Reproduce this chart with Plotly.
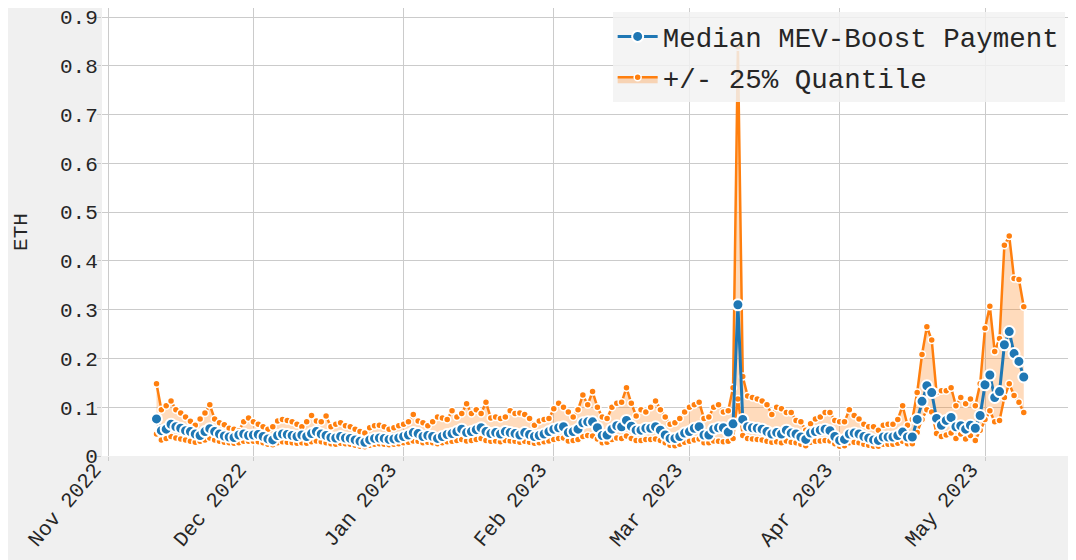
import pandas as pd
import plotly.graph_objects as go

start_date = "2022-11-11"
n_days = 180

median = [
    0.076, 0.052, 0.055, 0.065, 0.060, 0.057, 0.052, 0.050, 0.045, 0.042,
    0.050, 0.056, 0.050, 0.045, 0.041, 0.039, 0.038, 0.043, 0.045, 0.042,
    0.043, 0.044, 0.040, 0.035, 0.033, 0.042, 0.045, 0.044, 0.042, 0.040,
    0.043, 0.040, 0.046, 0.050, 0.045, 0.042, 0.038, 0.037, 0.040, 0.037,
    0.036, 0.033, 0.030, 0.028, 0.033, 0.036, 0.037, 0.036, 0.034, 0.035,
    0.037, 0.040, 0.043, 0.048, 0.046, 0.040, 0.042, 0.040, 0.036, 0.040,
    0.044, 0.046, 0.050, 0.055, 0.048, 0.050, 0.054, 0.058, 0.050, 0.046,
    0.048, 0.045, 0.050, 0.048, 0.046, 0.043, 0.048, 0.044, 0.040, 0.042,
    0.045, 0.050, 0.055, 0.058, 0.060, 0.048, 0.050, 0.055, 0.068, 0.070,
    0.070, 0.058, 0.042, 0.043, 0.055, 0.062, 0.060, 0.073, 0.061, 0.053,
    0.053, 0.057, 0.057, 0.060, 0.053, 0.043, 0.036, 0.036, 0.040, 0.047,
    0.050, 0.057, 0.060, 0.043, 0.043, 0.055, 0.058, 0.058, 0.049, 0.066,
    0.310, 0.075, 0.060, 0.058, 0.057, 0.055, 0.050, 0.045, 0.048, 0.045,
    0.053, 0.047, 0.045, 0.039, 0.034, 0.047, 0.050, 0.053, 0.055, 0.052,
    0.040, 0.032, 0.034, 0.045, 0.047, 0.045, 0.040, 0.037, 0.033, 0.032,
    0.039, 0.039, 0.039, 0.042, 0.049, 0.039, 0.039, 0.075, 0.112, 0.144,
    0.130, 0.077, 0.063, 0.073, 0.079, 0.060, 0.062, 0.055, 0.063, 0.057,
    0.083, 0.146, 0.166, 0.120, 0.132, 0.228, 0.255, 0.210, 0.194, 0.162,
]

upper_q = [
    0.148, 0.095, 0.103, 0.113, 0.095, 0.088, 0.080, 0.071, 0.063, 0.076,
    0.088, 0.105, 0.076, 0.068, 0.064, 0.057, 0.055, 0.052, 0.070, 0.078,
    0.070, 0.065, 0.060, 0.055, 0.060, 0.072, 0.075, 0.073, 0.070, 0.065,
    0.060, 0.070, 0.083, 0.072, 0.070, 0.082, 0.060, 0.065, 0.068, 0.062,
    0.060, 0.055, 0.050, 0.047, 0.058, 0.062, 0.063, 0.060, 0.055, 0.058,
    0.062, 0.065, 0.070, 0.085, 0.072, 0.068, 0.062, 0.070, 0.080, 0.078,
    0.075, 0.093, 0.080, 0.087, 0.107, 0.087, 0.095, 0.087, 0.110, 0.078,
    0.080, 0.077, 0.080, 0.093, 0.087, 0.088, 0.085, 0.077, 0.063, 0.072,
    0.075, 0.077, 0.097, 0.108, 0.100, 0.090, 0.080, 0.095, 0.125, 0.105,
    0.132, 0.100, 0.080, 0.077, 0.100, 0.108, 0.110, 0.140, 0.108, 0.082,
    0.095, 0.090, 0.100, 0.113, 0.095, 0.080, 0.065, 0.068, 0.077, 0.090,
    0.100, 0.105, 0.110, 0.077, 0.080, 0.100, 0.105, 0.090, 0.093, 0.140,
    0.839, 0.163, 0.123, 0.120, 0.117, 0.113, 0.105, 0.085, 0.100, 0.097,
    0.089, 0.089, 0.073, 0.070, 0.053, 0.066, 0.076, 0.080, 0.089, 0.089,
    0.073, 0.070, 0.070, 0.095, 0.083, 0.076, 0.065, 0.060, 0.060, 0.053,
    0.063, 0.065, 0.065, 0.075, 0.103, 0.063, 0.075, 0.130, 0.208, 0.265,
    0.238, 0.130, 0.134, 0.134, 0.140, 0.103, 0.120, 0.107, 0.117, 0.103,
    0.148, 0.262, 0.307, 0.214, 0.241, 0.432, 0.451, 0.364, 0.362, 0.306,
]

lower_q = [
    0.045, 0.033, 0.036, 0.040, 0.037, 0.035, 0.033, 0.030, 0.028, 0.030,
    0.033, 0.037, 0.033, 0.030, 0.028, 0.027, 0.026, 0.027, 0.030, 0.030,
    0.030, 0.029, 0.027, 0.024, 0.023, 0.027, 0.029, 0.028, 0.027, 0.026,
    0.027, 0.026, 0.029, 0.031, 0.029, 0.027, 0.025, 0.024, 0.026, 0.025,
    0.024, 0.022, 0.020, 0.019, 0.022, 0.024, 0.025, 0.024, 0.023, 0.024,
    0.025, 0.027, 0.028, 0.031, 0.030, 0.027, 0.028, 0.027, 0.025, 0.027,
    0.029, 0.030, 0.032, 0.034, 0.031, 0.032, 0.034, 0.036, 0.032, 0.030,
    0.031, 0.029, 0.032, 0.031, 0.030, 0.028, 0.030, 0.028, 0.026, 0.027,
    0.029, 0.031, 0.034, 0.036, 0.037, 0.031, 0.032, 0.034, 0.040, 0.042,
    0.041, 0.035, 0.027, 0.028, 0.034, 0.037, 0.036, 0.041, 0.036, 0.032,
    0.032, 0.034, 0.034, 0.035, 0.032, 0.027, 0.022, 0.021, 0.024, 0.028,
    0.030, 0.033, 0.035, 0.027, 0.027, 0.031, 0.030, 0.029, 0.030, 0.036,
    0.117, 0.042, 0.036, 0.035, 0.034, 0.033, 0.030, 0.028, 0.029, 0.027,
    0.031, 0.028, 0.027, 0.024, 0.021, 0.028, 0.030, 0.031, 0.032, 0.031,
    0.025, 0.020, 0.021, 0.027, 0.028, 0.027, 0.024, 0.022, 0.020, 0.020,
    0.024, 0.024, 0.024, 0.026, 0.030, 0.025, 0.025, 0.048, 0.075, 0.095,
    0.090, 0.046, 0.040, 0.043, 0.047, 0.036, 0.045, 0.035, 0.042, 0.032,
    0.053, 0.075, 0.093, 0.070, 0.073, 0.120, 0.148, 0.124, 0.110, 0.089,
]

y_ticks = [0, 0.1, 0.2, 0.3, 0.4, 0.5, 0.6, 0.7, 0.8, 0.9]
y_tick_labels = ["0", "0.1", "0.2", "0.3", "0.4", "0.5", "0.6", "0.7", "0.8", "0.9"]

dates = pd.date_range(start_date, periods=n_days, freq="D")

BLUE = "#1f77b4"
ORANGE = "#ff7f0e"
FONT = "Courier New, Liberation Mono, monospace"
TXT = "#262626"

fig = go.Figure()

fig.add_trace(go.Scatter(
    x=dates, y=lower_q, mode="lines+markers",
    line=dict(color=ORANGE, width=2.5),
    marker=dict(size=7, color=ORANGE, line=dict(color="white", width=1.5)),
    legendgroup="q", showlegend=False, hoverinfo="skip",
))
fig.add_trace(go.Scatter(
    x=dates, y=upper_q, mode="lines+markers", name="+/- 25% Quantile",
    fill="tonexty", fillcolor="rgba(255,127,14,0.28)",
    line=dict(color=ORANGE, width=2.5),
    marker=dict(size=7, color=ORANGE, line=dict(color="white", width=1.5)),
    legendgroup="q", legendrank=2,
))
fig.add_trace(go.Scatter(
    x=dates, y=median, mode="lines+markers", name="Median MEV-Boost Payment",
    line=dict(color=BLUE, width=3),
    marker=dict(size=11, color=BLUE, line=dict(color="white", width=2)),
    legendrank=1,
))

fig.update_layout(
    width=1068, height=552,
    margin=dict(l=94, r=5, t=0, b=104, autoexpand=False),
    paper_bgcolor="#f0f0f0",
    plot_bgcolor="#ffffff",
    font=dict(family=FONT, size=21, color=TXT),
    legend=dict(
        x=0.527, y=0.991, xanchor="left", yanchor="top",
        bgcolor="rgba(242,242,242,0.85)",
        font=dict(family=FONT, size=27.5, color=TXT),
        borderwidth=0,
        itemwidth=40,
        tracegroupgap=2,
    ),
    showlegend=True,
)

fig.update_xaxes(
    type="date",
    range=["2022-10-30 18:00", "2023-05-18 18:00"],
    dtick="M1", tick0="2022-11-01",
    tickformat="%b %Y", tickangle=-50,
    showgrid=True, gridcolor="#cbcbcb", gridwidth=1,
    ticks="outside", ticklen=4, tickcolor="#cbcbcb",
    ticklabelshift=-14, ticklabelstandoff=-12,
    zeroline=False, showline=False, automargin=False,
    tickfont=dict(family=FONT, size=21, color=TXT),
)
fig.update_yaxes(
    range=[0, 0.9185],
    tickvals=y_ticks, ticktext=y_tick_labels,
    showgrid=True, gridcolor="#cbcbcb", gridwidth=1,
    ticks="outside", ticklen=4, tickcolor="#cbcbcb",
    ticklabelstandoff=-5, ticklabeloverflow="allow",
    zeroline=False, showline=False, automargin=False,
    title=dict(text="ETH", font=dict(family=FONT, size=21, color=TXT), standoff=26),
    tickfont=dict(family=FONT, size=21, color=TXT),
)

fig.write_html("out.html")
